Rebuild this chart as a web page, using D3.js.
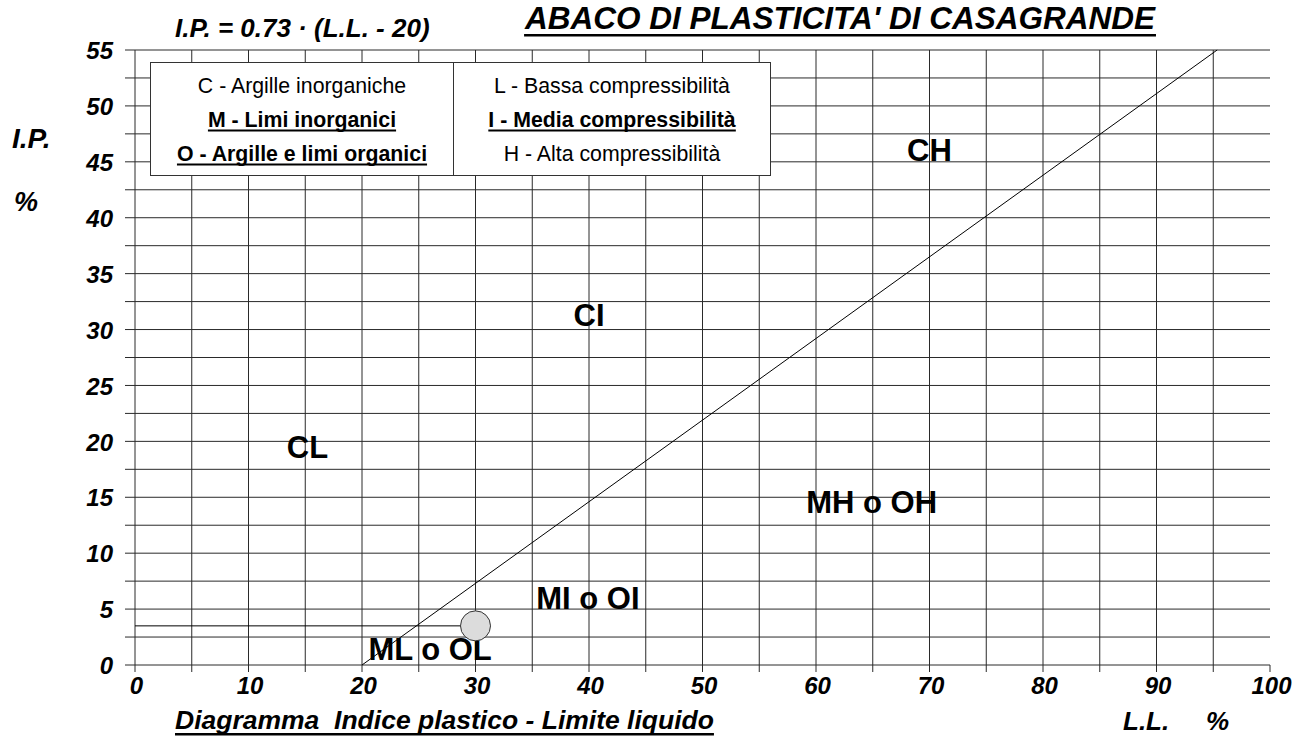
<!DOCTYPE html>
<html>
<head>
<meta charset="utf-8">
<script src="https://cdn.jsdelivr.net/npm/d3@7/dist/d3.min.js"></script>
<style>
  html, body { margin: 0; padding: 0; background: #fff; }
  svg { display: block; }
  text { font-family: "Liberation Sans", Arial, Helvetica, sans-serif; fill: #000; }
</style>
</head>
<body>
<svg id="chart" width="1296" height="740"></svg>
<script>
// ---- data ----
const xTickLabels = [0, 10, 20, 30, 40, 50, 60, 70, 80, 90, 100];
const xGridValues = [0, 5, 10, 15, 20, 25, 30, 35, 40, 45, 50, 55, 60, 65, 70, 75, 80, 85, 90, 95];
const xTickMarks = [0, 5, 10, 15, 20, 25, 30, 35, 40, 45, 50, 55, 60, 65, 70, 75, 80, 85, 90, 95, 100];
const yTickLabels = [0, 5, 10, 15, 20, 25, 30, 35, 40, 45, 50, 55];
const yGridValues = [0, 2.5, 5, 7.5, 10, 12.5, 15, 17.5, 20, 22.5, 25, 27.5, 30, 32.5, 35, 37.5, 40, 42.5, 45, 47.5, 50, 52.5, 55];

// A-line: I.P. = 0.73 * (L.L. - 20)
const aLineSlope = 0.73;
const aLineOrigin = 20;
const aLineLL = [20, 20 + 55 / 0.73];

const zoneNames = ["CH", "CI", "CL", "MH o OH", "MI o OI", "ML o OL"];
const zoneLL    = [70, 40, 15.2, 64.9, 39.9, 26];
const zoneIP    = [45.1, 30.3, 18.5, 13.6, 5.0, 0.45];

const sampleLL = [30];
const sampleIP = [3.5];

const legendLeft  = ["C - Argille inorganiche", "M - Limi inorganici", "O - Argille e limi organici"];
const legendRight = ["L - Bassa compressibilità", "I - Media compressibilità", "H - Alta compressibilità"];
const legendBold  = [false, true, true];
const legendBoldR = [false, true, false];

// ---- layout ----
const svg = d3.select("#chart");
const x = d3.scaleLinear().domain([0, 100]).range([135, 1270]);
const y = d3.scaleLinear().domain([0, 55]).range([665, 50]);
const gridColor = "#2a2a2a";

// horizontal grid lines (with left tick extension)
svg.append("g").selectAll("line").data(yGridValues).join("line")
  .attr("x1", x(0) - 10).attr("x2", x(100))
  .attr("y1", d => y(d)).attr("y2", d => y(d))
  .attr("stroke", gridColor).attr("stroke-width", 1);

// vertical grid lines
svg.append("g").selectAll("line").data(xGridValues).join("line")
  .attr("x1", d => x(d)).attr("x2", d => x(d))
  .attr("y1", y(55)).attr("y2", y(0))
  .attr("stroke", gridColor).attr("stroke-width", 1);
// bottom tick marks
svg.append("g").selectAll("line").data(xTickMarks).join("line")
  .attr("x1", d => x(d)).attr("x2", d => x(d))
  .attr("y1", y(0)).attr("y2", y(0) + 7)
  .attr("stroke", gridColor).attr("stroke-width", 1);

// axes labels via d3 axes
const xAxis = svg.append("g").attr("transform", `translate(1,${y(0)})`)
  .call(d3.axisBottom(x).tickValues(xTickLabels).tickSize(0).tickPadding(12).tickFormat(d3.format("d")));
xAxis.select(".domain").remove();
xAxis.selectAll("text").attr("font-size", 24).attr("font-weight", "bold").attr("font-style", "italic")
  .attr("fill", "#000").attr("dy", "0.71em").attr("font-family", "'Liberation Sans', Arial, sans-serif");

const yAxis = svg.append("g").attr("transform", `translate(${x(0) - 22},0)`)
  .call(d3.axisLeft(y).tickValues(yTickLabels).tickSize(0).tickPadding(0).tickFormat(d3.format("d")));
yAxis.select(".domain").remove();
yAxis.selectAll("text").attr("font-size", 24).attr("font-weight", "bold").attr("font-style", "italic")
  .attr("fill", "#000").attr("dy", "0.36em").attr("font-family", "'Liberation Sans', Arial, sans-serif");

// legend box
const lb = { x0: 150.5, x1: 770.5, y0: 62.5, y1: 175.5, mid: 453.5 };
const legend = svg.append("g");
legend.append("rect").attr("x", lb.x0).attr("y", lb.y0).attr("width", lb.x1 - lb.x0).attr("height", lb.y1 - lb.y0)
  .attr("fill", "#fff").attr("stroke", "#333").attr("stroke-width", 1);
legend.append("line").attr("x1", lb.mid).attr("x2", lb.mid).attr("y1", lb.y0).attr("y2", lb.y1)
  .attr("stroke", "#333").attr("stroke-width", 1);
const legendBaselines = [93, 126.5, 160.5];

function addText(g, txt, cx, by, size, bold, anchor) {
  return g.append("text").attr("x", cx).attr("y", by).attr("font-size", size)
    .attr("font-weight", bold ? "bold" : "normal").attr("text-anchor", anchor || "middle").text(txt);
}
function addUnderline(g, t, offset, thick) {
  const bb = t.node().getBBox();
  const by = +t.attr("y");
  g.append("rect").attr("x", bb.x).attr("y", by + offset).attr("width", bb.width).attr("height", thick).attr("fill", "#000");
}
legendLeft.forEach((s, i) => {
  const t = addText(legend, s, (lb.x0 + lb.mid) / 2, legendBaselines[i], 21.3, legendBold[i]);
  if (legendBold[i]) addUnderline(legend, t, 3, 2);
});
legendRight.forEach((s, i) => {
  const t = addText(legend, s, (lb.mid + lb.x1) / 2, legendBaselines[i], 21.3, legendBoldR[i]);
  if (legendBoldR[i]) addUnderline(legend, t, 3, 2);
});

// zone labels
svg.append("g").selectAll("text").data(zoneNames).join("text")
  .attr("x", (d, i) => x(zoneLL[i])).attr("y", (d, i) => y(zoneIP[i]))
  .attr("text-anchor", "middle").attr("font-size", 31).attr("font-weight", "bold")
  .text(d => d);

// A-line
const aLine = d3.line().x(d => x(d)).y(d => y(aLineSlope * (d - aLineOrigin)));
svg.append("path").datum(aLineLL).attr("d", aLine).attr("fill", "none").attr("stroke", "#000").attr("stroke-width", 1);

// sample reference line + point
svg.append("g").selectAll("line").data(sampleIP).join("line")
  .attr("x1", x(0)).attr("x2", (d, i) => x(sampleLL[i]))
  .attr("y1", d => y(d)).attr("y2", d => y(d))
  .attr("stroke", "#000").attr("stroke-width", 1);
svg.append("g").selectAll("circle").data(sampleIP).join("circle")
  .attr("cx", (d, i) => x(sampleLL[i])).attr("cy", d => y(d)).attr("r", 15)
  .attr("fill", "#dcdcdc").attr("stroke", "#333").attr("stroke-width", 1);

// titles
const titles = svg.append("g");
const mainT = titles.append("text").attr("x", 1155).attr("y", 29).attr("text-anchor", "end")
  .attr("font-size", 31.5).attr("font-weight", "bold").attr("font-style", "italic")
  .text("ABACO DI PLASTICITA' DI CASAGRANDE");
addUnderline(titles, mainT, 5, 2.5);

titles.append("text").attr("x", 175).attr("y", 37).attr("font-size", 26)
  .attr("font-weight", "bold").attr("font-style", "italic")
  .text("I.P. = 0.73 · (L.L. - 20)");

const botT = titles.append("text").attr("x", 175).attr("y", 729).attr("font-size", 26.5)
  .attr("font-weight", "bold").attr("font-style", "italic")
  .text("Diagramma  Indice plastico - Limite liquido");
botT.attr("xml:space", "preserve").style("white-space", "pre");
addUnderline(titles, botT, 4, 2.5);

titles.append("text").attr("x", 1123).attr("y", 730).attr("font-size", 26)
  .attr("font-weight", "bold").attr("font-style", "italic").text("L.L.");
titles.append("text").attr("x", 1206).attr("y", 730).attr("font-size", 26)
  .attr("font-weight", "bold").attr("font-style", "italic").text("%");

titles.append("text").attr("x", 12).attr("y", 148).attr("font-size", 28)
  .attr("font-weight", "bold").attr("font-style", "italic").text("I.P.");
titles.append("text").attr("x", 14).attr("y", 211).attr("font-size", 27)
  .attr("font-weight", "bold").attr("font-style", "italic").text("%");
</script>
</body>
</html>
